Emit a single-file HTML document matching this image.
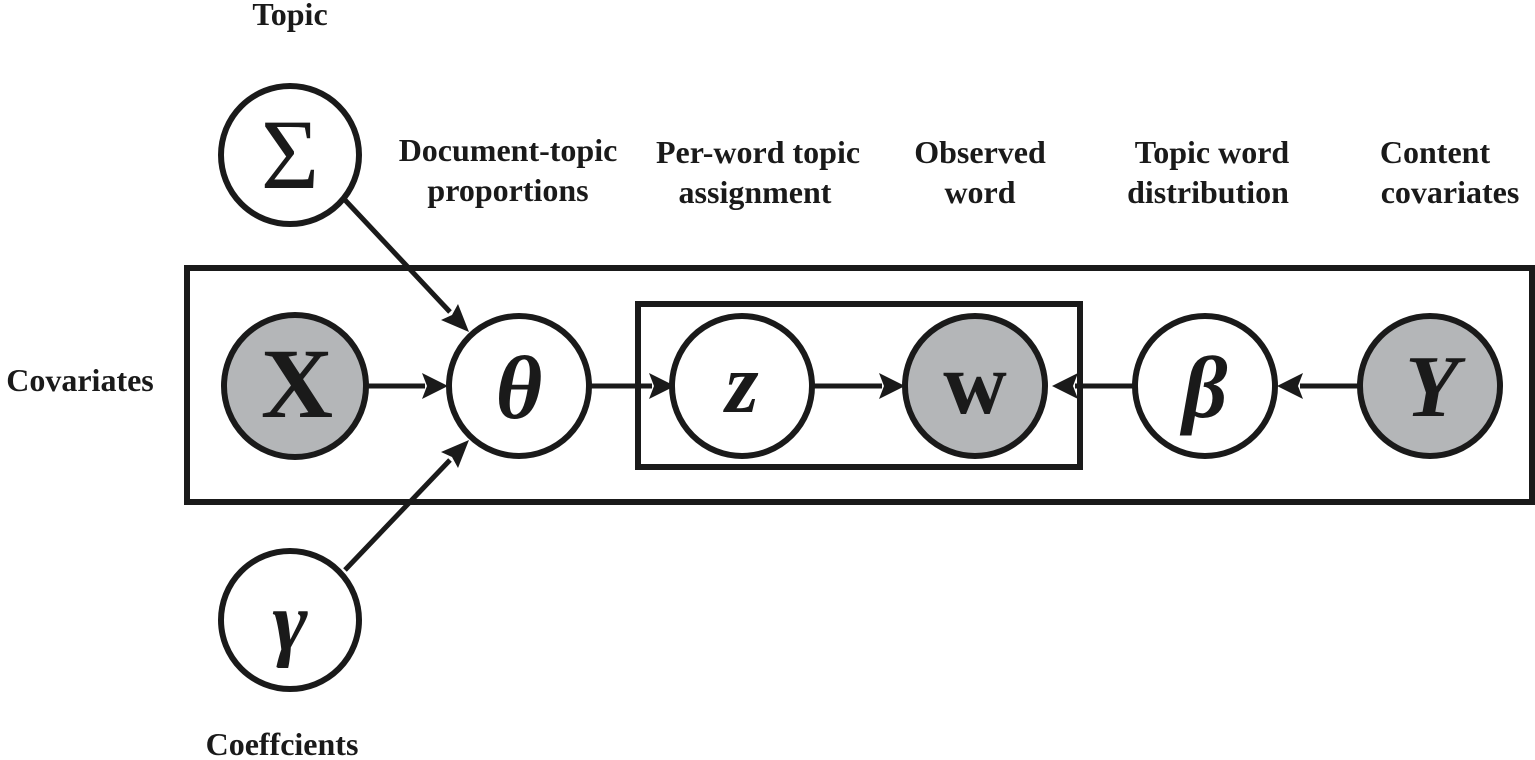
<!DOCTYPE html>
<html><head><style>
html,body{margin:0;padding:0;background:#fff;}
svg{display:block;}
text{font-family:"Liberation Serif",serif;fill:#1a1a1a;}
</style></head><body>
<svg width="1535" height="760" viewBox="0 0 1535 760" xmlns="http://www.w3.org/2000/svg">
<g stroke="#1a1a1a" stroke-width="6" fill="none">
<rect x="187" y="268" width="1345" height="234"/>
<rect x="638" y="304" width="442" height="163"/>
</g>
<g stroke="#1a1a1a" stroke-width="5">
<line x1="367" y1="386" x2="425" y2="386"/>
<line x1="590" y1="386" x2="652" y2="386"/>
<line x1="812" y1="386" x2="882" y2="386"/>
<line x1="1135" y1="386" x2="1075" y2="386"/>
<line x1="1360" y1="386" x2="1300" y2="386"/>
<line x1="345" y1="200" x2="450" y2="312"/>
<line x1="345" y1="570" x2="450" y2="460"/>
</g>
<g fill="#1a1a1a">
<polygon points="448,386 422,373 427,386 422,399"/>
<polygon points="675,386 649,373 654,386 649,399"/>
<polygon points="905,386 879,373 884,386 879,399"/>
<polygon points="1052,386 1078,373 1073,386 1078,399"/>
<polygon points="1277,386 1303,373 1298,386 1303,399"/>
<polygon points="469,332 441,320 452,315 458,304"/>
<polygon points="469,440 441,452 452,457 458,468"/>
</g>
<g stroke="#1a1a1a" stroke-width="6">
<circle cx="290" cy="155" r="69" fill="#fff"/>
<circle cx="295" cy="386" r="71" fill="#b4b6b8"/>
<circle cx="519" cy="386" r="70" fill="#fff"/>
<circle cx="742" cy="386" r="70" fill="#fff"/>
<circle cx="975" cy="386" r="70" fill="#b4b6b8"/>
<circle cx="1205" cy="386" r="70" fill="#fff"/>
<circle cx="1430" cy="386" r="70" fill="#b4b6b8"/>
<circle cx="290" cy="620" r="69" fill="#fff"/>
</g>
<g text-anchor="middle" style="font-weight:bold">
<text x="290" y="188" style="font-weight:normal;font-size:100px">Σ</text>
<text x="297" y="417" font-size="100">X</text>
<text x="519" y="418" font-size="90" font-style="italic">θ</text>
<text x="742" y="412" font-size="85" font-style="italic">z</text>
<text x="975" y="413" font-size="88">w</text>
<text x="1205" y="417" font-size="88" font-style="italic">β</text>
<text x="1432" y="416" font-size="88" font-style="italic">Y</text>
<text x="290" y="650" font-size="85" font-style="italic">γ</text>
</g>
<g font-size="32" text-anchor="middle" style="font-weight:bold">
<text x="290" y="25">Topic</text>
<text x="508" y="161">Document-topic</text>
<text x="508" y="201">proportions</text>
<text x="758" y="163">Per-word topic</text>
<text x="755" y="203">assignment</text>
<text x="980" y="163">Observed</text>
<text x="980" y="203">word</text>
<text x="1212" y="163">Topic word</text>
<text x="1208" y="203">distribution</text>
<text x="1435" y="163">Content</text>
<text x="1450" y="203">covariates</text>
<text x="80" y="391">Covariates</text>
<text x="282" y="755">Coeffcients</text>
</g>
</svg>
</body></html>
